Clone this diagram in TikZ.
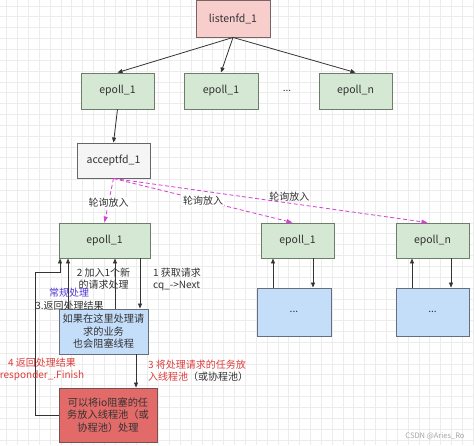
\documentclass[tikz,border=0pt]{standalone}
\usepackage{fontspec}
\setmainfont{Noto Sans CJK SC}
\usetikzlibrary{arrows.meta,calc}
\definecolor{gfill}{RGB}{213,232,212}
\definecolor{gdraw}{RGB}{110,125,105}
\definecolor{pfill}{RGB}{248,206,204}
\definecolor{pdraw}{RGB}{120,100,100}
\definecolor{bfill}{RGB}{196,222,250}
\definecolor{bdraw}{RGB}{100,110,125}
\definecolor{rfill}{RGB}{226,106,104}
\definecolor{rdraw}{RGB}{120,80,80}
\definecolor{afill}{RGB}{245,245,245}
\definecolor{adraw}{RGB}{102,102,102}
\definecolor{mag}{RGB}{214,64,214}
\definecolor{redtxt}{RGB}{222,60,60}
\definecolor{purp}{RGB}{80,60,210}
\definecolor{txt}{RGB}{51,51,51}
\definecolor{gridc}{RGB}{236,236,236}
\begin{document}
\begin{tikzpicture}[x=1pt,y=-1pt,
  box/.style={draw, line width=0.9pt, inner sep=0pt, text=txt, font=\fontsize{10.5}{12}\selectfont},
  gbox/.style={box, fill=gfill, draw=gdraw},
  pbox/.style={box, fill=pfill, draw=pdraw},
  bbox/.style={box, fill=bfill, draw=bdraw, align=center, font=\fontsize{10.2}{12.5}\selectfont},
  rbox/.style={box, fill=rfill, draw=rdraw, align=center, font=\fontsize{10.2}{12.5}\selectfont},
  abox/.style={box, fill=afill, draw=adraw},
  arr/.style={draw=txt, line width=0.8pt, -{Triangle[length=5pt,width=4pt]}},
  darr/.style={draw=mag, line width=0.8pt, dashed, dash pattern=on 4pt off 2.5pt, -{Triangle[length=6pt,width=4pt]}},
  lbl/.style={text=txt, font=\fontsize{10}{12}\selectfont, inner sep=1pt},
]
\useasboundingbox (0,0) rectangle (474,445);
\fill[white] (0,0) rectangle (474,445);
% grid
\foreach \i in {0,...,43} {\draw[gridc, line width=0.5pt] (6.5+10.85*\i,0) -- (6.5+10.85*\i,445);}
\foreach \i in {0,...,41} {\draw[gridc, line width=0.5pt] (0,5.8+10.85*\i) -- (474,5.8+10.85*\i);}

% top level
\node[pbox, minimum width=74pt, minimum height=37pt] (L) at (233,18.5) {listenfd\_1};
\node[gbox, minimum width=73pt, minimum height=36pt] (E1) at (117.5,91) {epoll\_1};
\node[gbox, minimum width=74pt, minimum height=36pt] (E2) at (221,91) {epoll\_1};
\node[text=txt, font=\fontsize{10}{12}\selectfont] (dots) at (287,91) {...};
\node[gbox, minimum width=73pt, minimum height=36pt] (En) at (355.5,91) {epoll\_n};
\node[abox, minimum width=73pt, minimum height=35pt] (A) at (113.5,160.5) {acceptfd\_1};

% lower level
\node[gbox, minimum width=91pt, minimum height=35pt] (P1) at (104.5,240.5) {epoll\_1};
\node[bbox, minimum width=89pt, minimum height=45pt] (B1) at (103.5,331.5) {如果在这里处理请\\求的业务\\也会阻塞线程};
\node[rbox, minimum width=98pt, minimum height=54pt] (R1) at (108,415) {可以将io阻塞的任\\务放入线程池（或\\协程池）处理};
\node[gbox, minimum width=73pt, minimum height=35pt] (P2) at (297.5,240.5) {epoll\_1};
\node[bbox, minimum width=74pt, minimum height=48pt] (B2) at (294,312) {...};
\node[gbox, minimum width=73pt, minimum height=35pt] (P3) at (432.5,240.5) {epoll\_n};
\node[bbox, minimum width=73pt, minimum height=48pt] (B3) at (432.5,312) {...};

% top arrows
\draw[arr] (L.south) -- (E1.north);
\draw[arr] (L.south) -- (E2.north);
\draw[arr] (L.south) -- (En.north);
\draw[arr] (E1.south) -- (A.north);

% dashed magenta
\draw[darr] (A.south) -- node[lbl, fill=white, pos=0.55] {轮询放入} (P1.north);
\draw[darr] (A.south) -- node[lbl, fill=white, pos=0.5] {轮询放入} ($(P2.north)+(-5,0)$);
\draw[darr] (A.south) -- node[lbl, above=0pt, pos=0.56] {轮询放入} ($(P3.north)+(-5,0)$);

% left cluster arrows
\coordinate (x140) at (140,0);
\coordinate (x115) at (115,0);
\coordinate (x68) at (68,0);
\coordinate (x136) at (136,0);
\coordinate (k1) at (35,272);
\coordinate (k2) at (60,272);
\draw[arr] (P1.south -| x140) -- (B1.north -| x140);
\draw[arr] (B1.north -| x115) -- (P1.south -| x115);
\draw[arr] (B1.north -| x68) -- (P1.south -| x68);
\draw[arr] (B1.south -| x136) -- (R1.north -| x136);
\draw[arr] (R1.west) -| (k1) -- (k2) -- (P1.south -| k2);

% right cluster arrows
\coordinate (x273) at (273,0);
\coordinate (x313) at (313,0);
\coordinate (x412) at (412,0);
\coordinate (x451) at (451,0);
\draw[arr] (B2.north -| x273) -- (P2.south -| x273);
\draw[arr] (P2.south -| x313) -- (B2.north -| x313);
\draw[arr] (B3.north -| x412) -- (P3.south -| x412);
\draw[arr] (P3.south -| x451) -- (B3.north -| x451);

% labels
\node[lbl, anchor=west, align=left] (l1) at (152,279) {1 获取请求\\cq\_->Next};
\node[lbl, align=center] (l2) at (103.5,279) {2 加入1个新\\的请求处理};
\node[lbl, text=purp] (l3a) at (69,293) {常规处理};
\node[lbl] (l3b) at (69.5,306) {3.返回处理结果};
\node[lbl, text=redtxt, align=center] (l4) at (42,369) {4 返回处理结果\\responder\_.Finish};
\node[lbl, anchor=west, align=left] (l5) at (147,370.5) {\textcolor{redtxt}{3 将处理请求的任务放}\\\textcolor{redtxt}{入线程池}（或协程池）};

% watermark
\node[text=gray!70, font=\fontsize{7.5}{9}\selectfont] (wm) at (435,436) {CSDN @Aries\_Ro};
\end{tikzpicture}
\end{document}
